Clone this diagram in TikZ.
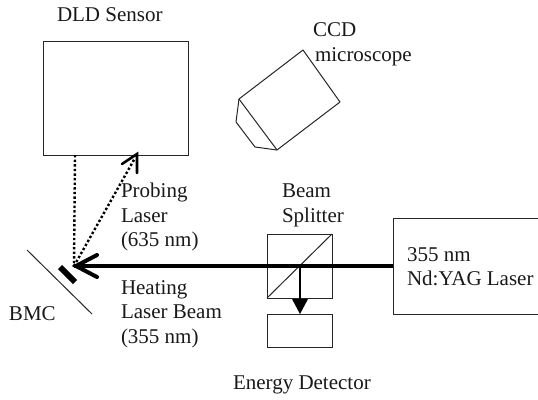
\documentclass[tikz,border=0pt]{standalone}
\usepackage{fontspec}
\setmainfont{Liberation Serif}
\tikzset{
  lbl/.style={anchor=base west,inner sep=0pt,outer sep=0pt,font=\fontsize{21}{24}\selectfont,text=black!90},
  thin line/.style={draw=black!85,line width=1pt},
  beam/.style={draw=black,line width=4pt},
  dots/.style={draw=black,line width=2.4pt,dash pattern=on 2.4pt off 2.2pt},
}
\begin{document}
\begin{tikzpicture}[x=1pt,y=-1pt]
\useasboundingbox (0,0) rectangle (538,399);
% boxes
\draw[thin line] (43,41) rectangle (188,155);
\draw[thin line] (267,234) rectangle (332,298);
\draw[thin line] (267,314) rectangle (332,347);
\draw[thin line] (393,218) rectangle (538,314);
\coordinate (sensorA) at (75,155);
\coordinate (sensorB) at (137,155);
\coordinate (mirror) at (74,266);
\coordinate (laser) at (393,266);
\coordinate (split) at (300,266);
\coordinate (detector) at (300,314);
% microscope
\draw[thin line,line join=round] (303,50) -- (340,102) -- (277,150) -- (239,99) -- cycle;
\draw[thin line,line join=round] (239,99) -- (236,122) -- (255,147) -- (277,150);
% splitter diagonal
\draw[thin line] (267,298) -- (332,234);
% mirror
\draw[thin line] (27,250) -- (92,314);
\draw[draw=black,line width=6pt] (60,267) -- (75,282);
% dotted rays
\draw[dots] (sensorA) -- (mirror);
\draw[dots] (mirror) -- (135,158);
\draw[draw=black,line width=2.6pt,line cap=round,line join=miter] (122,164) -- (137,154) -- (137,173);
% heating beam
\draw[beam] (laser) -- (mirror);
\draw[draw=black,line width=4pt,line cap=round,line join=miter] (97,255) -- (76,266) -- (97,277);
% down arrow
\draw[draw=black,line width=2.6pt] (split) -- (300,300);
\fill[black] (292,299) -- (308,299) -- (detector) -- cycle;
% labels
\node[lbl] (t1) at (57,21) {DLD Sensor};
\node[lbl] (t2) at (313,36) {CCD};
\node[lbl] (t3) at (315,61) {microscope};
\node[lbl] (t4) at (121,197) {Probing};
\node[lbl] (t5) at (121,222) {Laser};
\node[lbl] (t6) at (121,246) {(635 nm)};
\node[lbl] (t7) at (121,294) {Heating};
\node[lbl] (t8) at (121,318) {Laser Beam};
\node[lbl] (t9) at (121,343) {(355 nm)};
\node[lbl] (t10) at (282,197) {Beam};
\node[lbl] (t11) at (282,222) {Splitter};
\node[lbl] (t12) at (407,261) {355 nm};
\node[lbl] (t13) at (407,285) {Nd:YAG Laser};
\node[lbl] (t14) at (9,320) {BMC};
\node[lbl] (t15) at (233,389) {Energy Detector};
\end{tikzpicture}
\end{document}
